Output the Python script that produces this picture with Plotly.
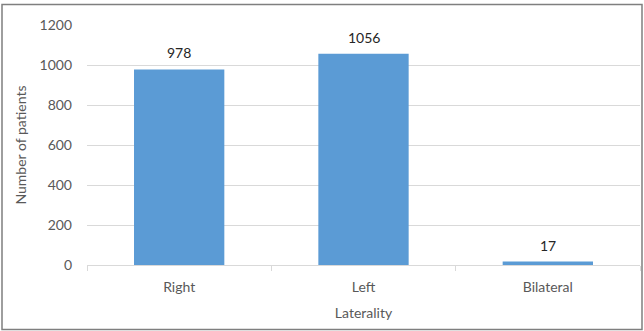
import plotly.graph_objects as go

categories = ["Right", "Left", "Bilateral"]
patients = [978, 1056, 17]
y_ticks = [0, 200, 400, 600, 800, 1000, 1200]

W, H = 644, 331
L, R, T, B = 87, 4, 25, 66
pw, ph = W - L - R, H - T - B
FONT = "Lato"

fig = go.Figure(go.Bar(
    x=categories, y=patients,
    marker=dict(color="#5b9bd5", line=dict(width=0)),
    width=0.49, hoverinfo="x+y",
))

annotations = [
    dict(x=c, y=v, text=str(v), xref="x", yref="y", showarrow=False,
         yanchor="bottom", yshift=6,
         font=dict(family=FONT, size=14, color="#262626"))
    for c, v in zip(categories, patients)
]

def px_x(p):
    return (p - L) / pw

def px_y(p):
    return (H - B - p) / ph

fig.update_layout(
    width=W, height=H,
    margin=dict(l=L, r=R, t=T, b=B),
    paper_bgcolor="white", plot_bgcolor="white",
    font=dict(family=FONT, size=14, color="#595959"),
    showlegend=False,
    annotations=annotations,
    shapes=[dict(type="rect", xref="paper", yref="paper",
                 x0=px_x(2), x1=px_x(642), y0=px_y(329.5), y1=px_y(4.5),
                 line=dict(color="#7f7f7f", width=1.5), layer="below")],
)
fig.update_xaxes(
    showline=True, linecolor="#d9d9d9", linewidth=1,
    ticks="outside", tickson="boundaries", ticklen=5, tickcolor="#d9d9d9",
    ticklabelstandoff=9,
    title=dict(text="Laterality", standoff=14, font=dict(size=14, color="#595959")),
    tickfont=dict(size=14, color="#595959"),
)
fig.update_yaxes(
    range=[0, 1200], tickvals=y_ticks,
    showgrid=True, gridcolor="#d9d9d9", gridwidth=1,
    zeroline=False, showline=False,
    title=dict(text="Number of patients", standoff=9, font=dict(size=14, color="#595959")),
    tickfont=dict(size=14, color="#595959"),
    ticklabelstandoff=14,
)
fig.write_html("out.html", config={"displayModeBar": False},
               post_script="document.body.style.margin='0';")
